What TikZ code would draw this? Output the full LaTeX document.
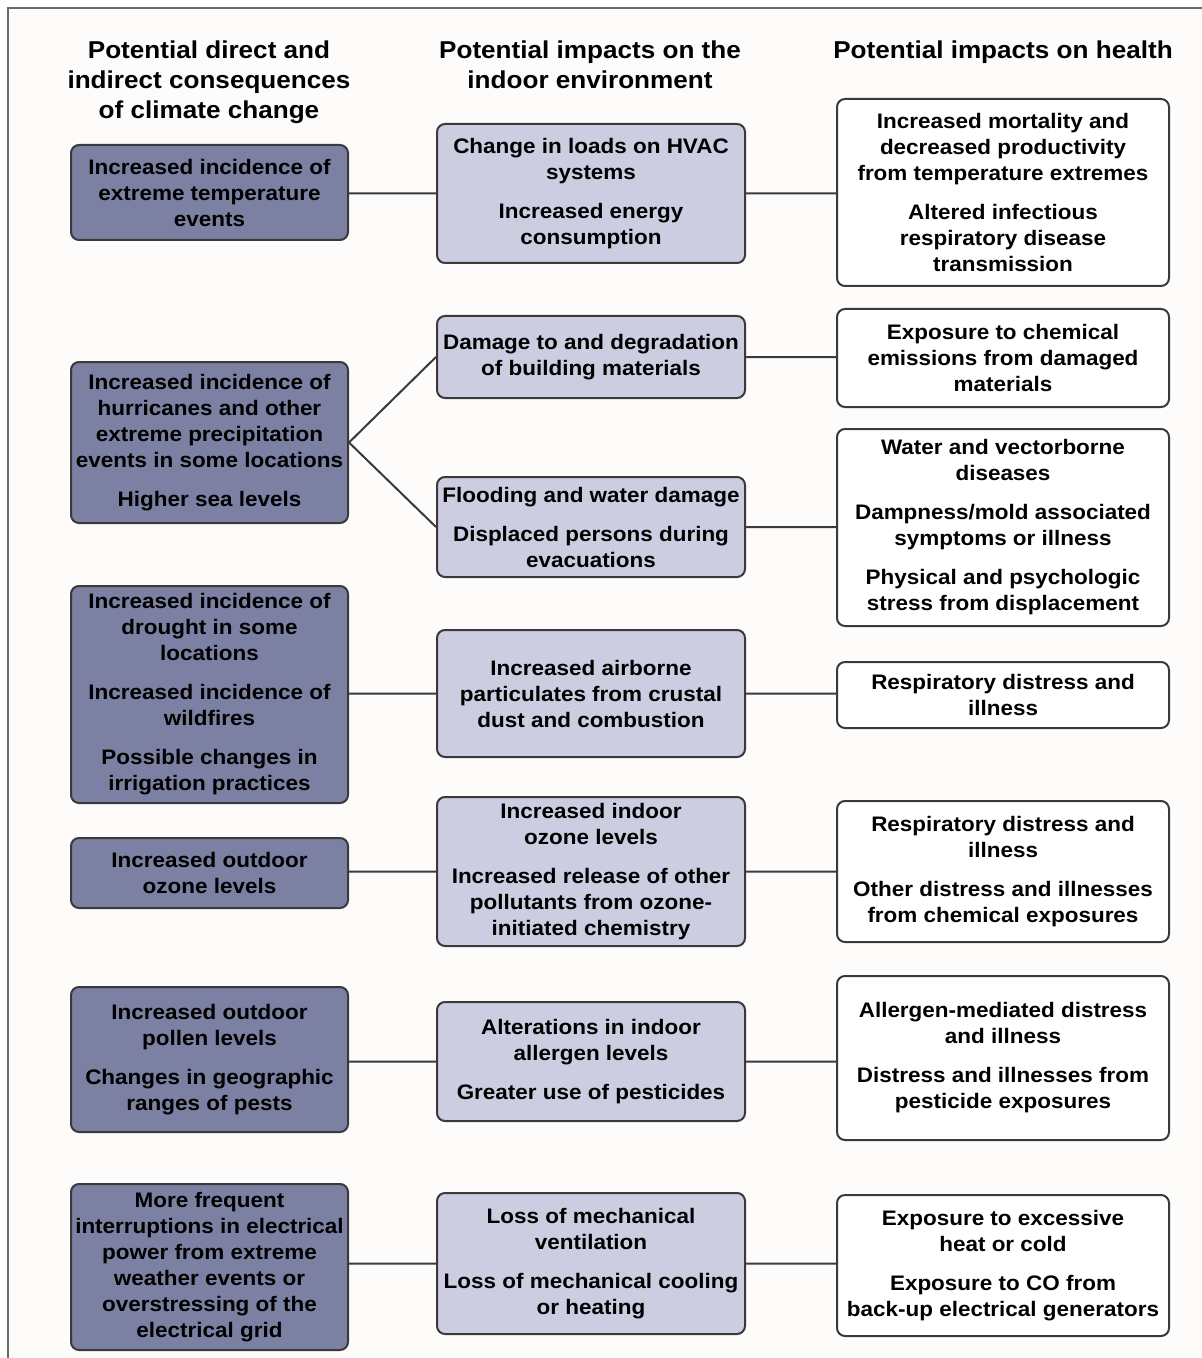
\documentclass[tikz,border=0pt]{standalone}
\usepackage{fontspec}
\usepackage{tikz}
\newfontfamily\boxfont[FakeStretch=1.07]{Liberation Sans Bold}
\definecolor{slate400}{HTML}{7C80A2}
\definecolor{slate100}{HTML}{CDCDE1}
\definecolor{gray800}{HTML}{3A3A3A}
\definecolor{gray600}{HTML}{6A6A6A}
\definecolor{paper}{HTML}{FDFCFB}
\tikzstyle{block}=[rectangle, rounded corners=4pt, draw=gray800, line width=1pt, align=center, inner sep=0pt, font=\boxfont\fontsize{10.5}{13}\selectfont]
\tikzstyle{cause}=[block, fill=slate400, minimum width=138.5pt]
\tikzstyle{indoor}=[block, fill=slate100, minimum width=154pt]
\tikzstyle{health}=[block, fill=white, minimum width=166pt]
\tikzstyle{heading}=[align=center, font=\boxfont\fontsize{12.2}{15}\selectfont]

\begin{document}
\begin{tikzpicture}[x=0.5pt, y=-0.5pt]
	\useasboundingbox (0,0) rectangle (1202,1358);
	\fill[paper] (8,8) rectangle (1202,1358);
	\path[draw=gray600, line width=0.75pt] (8,1362) -- (8,8) -- (1206,8);
	% column headings
	\node[heading] (t1) at (209,82) {Potential direct and\\indirect consequences\\of climate change};
	\node[heading] (t2) at (590,65) {Potential impacts on the\\indoor environment};
	\node[heading] (t3) at (1003,52) {Potential impacts on health};
	% consequences of climate change
	\node[cause, minimum height=47.5pt] (c1) at (209.5,192.5) {Increased incidence of\\extreme temperature\\events};
	\node[cause, minimum height=80.5pt] (c2) at (209.5,442.5) {Increased incidence of\\hurricanes and other\\extreme precipitation\\events in some locations\\[6.5pt]Higher sea levels};
	\node[cause, minimum height=108.5pt] (c3) at (209.5,694.5) {Increased incidence of\\drought in some\\locations\\[6.5pt]Increased incidence of\\wildfires\\[6.5pt]Possible changes in\\irrigation practices};
	\node[cause, minimum height=35pt] (c4) at (209.5,873) {Increased outdoor\\ozone levels};
	\node[cause, minimum height=72.5pt] (c5) at (209.5,1059.5) {Increased outdoor\\pollen levels\\[6.5pt]Changes in geographic\\ranges of pests};
	\node[cause, minimum height=83pt] (c6) at (209.5,1267) {More frequent\\interruptions in electrical\\power from extreme\\weather events or\\overstressing of the\\electrical grid};
	% impacts on the indoor environment
	\node[indoor, minimum height=69.5pt] (e1) at (591,193.5) {Change in loads on HVAC\\systems\\[6.5pt]Increased energy\\consumption};
	\node[indoor, minimum height=41pt] (e2) at (591,357) {Damage to and degradation\\of building materials};
	\node[indoor, minimum height=50pt] (e3) at (591,527) {Flooding and water damage\\[6.5pt]Displaced persons during\\evacuations};
	\node[indoor, minimum height=63.5pt] (e4) at (591,693.5) {Increased airborne\\particulates from crustal\\dust and combustion};
	\node[indoor, minimum height=74.5pt] (e5) at (591,871.5) {Increased indoor\\ozone levels\\[6.5pt]Increased release of other\\pollutants from ozone-\\initiated chemistry};
	\node[indoor, minimum height=59.5pt] (e6) at (591,1061.5) {Alterations in indoor\\allergen levels\\[6.5pt]Greater use of pesticides};
	\node[indoor, minimum height=70.5pt] (e7) at (591,1263.5) {Loss of mechanical\\ventilation\\[6.5pt]Loss of mechanical cooling\\or heating};
	% impacts on health
	\node[health, minimum height=93.5pt] (h1) at (1003,192.5) {Increased mortality and\\decreased productivity\\from temperature extremes\\[6.5pt]Altered infectious\\respiratory disease\\transmission};
	\node[health, minimum height=49pt] (h2) at (1003,358) {Exposure to chemical\\emissions from damaged\\materials};
	\node[health, minimum height=98.5pt] (h3) at (1003,527.5) {Water and vectorborne\\diseases\\[6.5pt]Dampness/mold associated\\symptoms or illness\\[6.5pt]Physical and psychologic\\stress from displacement};
	\node[health, minimum height=33pt] (h4) at (1003,695) {Respiratory distress and\\illness};
	\node[health, minimum height=70.5pt] (h5) at (1003,871.5) {Respiratory distress and\\illness\\[6.5pt]Other distress and illnesses\\from chemical exposures};
	\node[health, minimum height=82pt] (h6) at (1003,1058) {Allergen-mediated distress\\and illness\\[6.5pt]Distress and illnesses from\\pesticide exposures};
	\node[health, minimum height=70.5pt] (h7) at (1003,1265.5) {Exposure to excessive\\heat or cold\\[6.5pt]Exposure to CO from\\back-up electrical generators};
	% connectors
	\path[draw=gray800, line width=1pt] (e1.west -| c1.east)--(e1.west) (e1.east)--(e1.east -| h1.west)
		(c2.east)--(e2.west) (c2.east)--(e3.west)
		(e2.east)--(e2.east -| h2.west) (e3.east)--(e3.east -| h3.west)
		(e4.west -| c3.east)--(e4.west) (e4.east)--(e4.east -| h4.west)
		(e5.west -| c4.east)--(e5.west) (e5.east)--(e5.east -| h5.west)
		(e6.west -| c5.east)--(e6.west) (e6.east)--(e6.east -| h6.west)
		(e7.west -| c6.east)--(e7.west) (e7.east)--(e7.east -| h7.west);
\end{tikzpicture}
\end{document}
